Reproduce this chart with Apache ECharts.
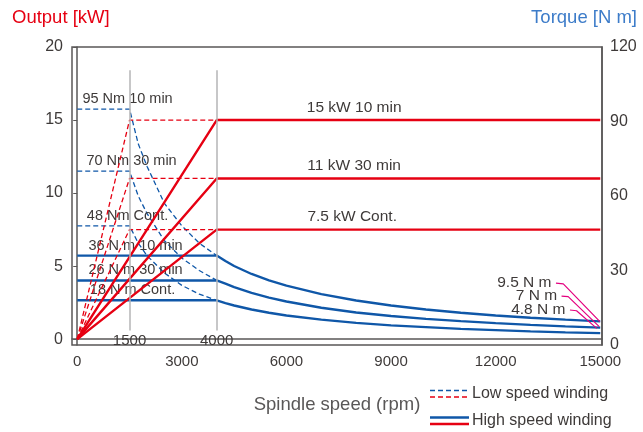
<!DOCTYPE html>
<html>
<head>
<meta charset="utf-8">
<script src="https://cdn.jsdelivr.net/npm/echarts@6/dist/echarts.min.js"></script>
<style>
html,body{margin:0;padding:0;background:#fff;}
#charts{width:643px;height:432px;}
</style>
</head>
<body>
<div id="charts"></div>
<script>
var speedTicks = [0, 3000, 6000, 9000, 12000, 15000];
var outputTicks = [0, 5, 10, 15, 20];
var torqueTicks = [0, 30, 60, 90, 120];
var baseSpeeds = [1500, 4000];

// low speed winding (dashed) - output kW / torque N m
var lowPower10 = [[0, 0], [1500, 15], [4000, 15]];
var lowPower30 = [[0, 0], [1500, 11], [4000, 11]];
var lowPowerCont = [[0, 0], [1500, 7.5], [4000, 7.5]];
var lowTorque10 = [[0, 95], [1500, 95], [1750, 81], [2000, 72], [2500, 57], [3000, 48], [3500, 41], [4000, 36]];
var lowTorque30 = [[0, 70], [1500, 70], [1750, 60], [2000, 53], [2500, 42], [3000, 35], [3500, 30], [4000, 26]];
var lowTorqueCont = [[0, 48], [1500, 48], [1750, 41], [2000, 36], [2500, 29], [3000, 24], [3500, 20.5], [4000, 18]];

// high speed winding (solid)
var highPower10 = [[0, 0], [4000, 15], [8000, 15], [15000, 15]];
var highPower30 = [[0, 0], [4000, 11], [8000, 11], [15000, 11]];
var highPowerCont = [[0, 0], [4000, 7.5], [8000, 7.5], [15000, 7.5]];
var highTorque10 = [[0, 36], [1500, 36], [4000, 36], [4250, 33.8], [4500, 31.8], [5000, 28.6], [5500, 26], [6000, 23.9], [7000, 20.5], [8000, 17.9], [9000, 15.9], [10000, 14.3], [11000, 13], [12000, 11.9], [13000, 11], [14000, 10.2], [15000, 9.5]];
var highTorque30 = [[0, 26], [1500, 26], [4000, 26], [4250, 24.7], [4500, 23.3], [5000, 21], [5500, 19.1], [6000, 17.5], [7000, 15], [8000, 13.1], [9000, 11.7], [10000, 10.5], [11000, 9.6], [12000, 8.8], [13000, 8.1], [14000, 7.5], [15000, 7]];
var highTorqueCont = [[0, 18], [1500, 18], [4000, 18], [4250, 16.9], [4500, 15.9], [5000, 14.3], [5500, 13], [6000, 11.9], [7000, 10.2], [8000, 8.9], [9000, 7.9], [10000, 7.2], [11000, 6.5], [12000, 6], [13000, 5.5], [14000, 5.1], [15000, 4.8]];

// leaders for the torque values at max speed
var leaderNames = ['9.5 N m', '7 N m', '4.8 N m'];
var leader95 = [[13730, 24.9], [13940, 24.6], [14990, 9.4]];
var leader7 = [[13890, 19.7], [14080, 19.5], [14970, 7.4]];
var leader48 = [[14130, 14.1], [14320, 13.8], [14900, 6.7]];

var RED = '#e60012', BLUE = '#0f57a8', TXT = '#3e3a39', AX = '#595757';
var FONT = '"Liberation Sans", Arial, sans-serif';

function icon(dash){
	var d = dash ? " stroke-dasharray='5,3'" : "";
	var w = dash ? 1.6 : 2.4;
	var svg = "<svg xmlns='http://www.w3.org/2000/svg' width='39' height='12'>" +
		"<line x1='0' y1='2.5' x2='39' y2='2.5' stroke='" + BLUE + "' stroke-width='" + w + "'" + d + "/>" +
		"<line x1='0' y1='9' x2='39' y2='9' stroke='" + RED + "' stroke-width='" + w + "'" + d + "/></svg>";
	return 'image://data:image/svg+xml;charset=utf-8,' + encodeURIComponent(svg);
}

//线条 + 标签
function mkLine(name, data, axis, color, dashed, txt, at, lbl){
	var d = data.map(function(p, i){
		if(txt && i == at){
			return {
				value: p,
				symbol: 'circle',
				symbolSize: 1,
				itemStyle: {color: 'rgba(0,0,0,0)'},
				label: Object.assign({show: true, formatter: txt, color: TXT, fontSize: 14.5, fontFamily: FONT}, lbl)
			};
		}
		return p;
	});
	return {
		name: name,
		type: 'line',
		yAxisIndex: axis,
		data: d,
		symbol: 'none',
		color: color,
		z: color == RED ? 4 : 3,
		lineStyle: {color: color, width: dashed ? 1.3 : 2.4, type: dashed ? [5, 3] : 'solid'},
		emphasis: {disabled: true}
	};
}

var LOW = 'Low speed winding', HIGH = 'High speed winding';
var series = [
	mkLine(LOW, lowTorque10, 1, BLUE, true, '95 Nm 10 min', 1, {position: 'top', distance: 2, offset: [-2, 0]}),
	mkLine(LOW, lowTorque30, 1, BLUE, true, '70 Nm 30 min', 1, {position: 'top', distance: 2, offset: [2, 0]}),
	mkLine(LOW, lowTorqueCont, 1, BLUE, true, '48 Nm Cont.', 1, {position: 'top', distance: 2, offset: [-2, 0]}),
	mkLine(LOW, lowPower10, 0, RED, true),
	mkLine(LOW, lowPower30, 0, RED, true),
	mkLine(LOW, lowPowerCont, 0, RED, true),
	mkLine(HIGH, highTorque10, 1, BLUE, false, '36 N m 10 min', 1, {position: 'top', distance: 2, offset: [6, 0]}),
	mkLine(HIGH, highTorque30, 1, BLUE, false, '26 N m 30 min', 1, {position: 'top', distance: 2, offset: [6, 0]}),
	mkLine(HIGH, highTorqueCont, 1, BLUE, false, '18 N m Cont.', 1, {position: 'top', distance: 2, offset: [3, 0]}),
	mkLine(HIGH, highPower10, 0, RED, false, '15 kW 10 min', 2, {position: 'top', distance: 4, fontSize: 15.5, offset: [-2, 0]}),
	mkLine(HIGH, highPower30, 0, RED, false, '11 kW 30 min', 2, {position: 'top', distance: 4, fontSize: 15.5, offset: [-2, 0]}),
	mkLine(HIGH, highPowerCont, 0, RED, false, '7.5 kW Cont.', 2, {position: 'top', distance: 4, fontSize: 15.5, offset: [-4, 0]})
];
[leader95, leader7, leader48].forEach(function(l, i){
	series.push({
		name: 'leader' + i,
		type: 'line',
		yAxisIndex: 1,
		symbol: 'none',
		z: 5,
		lineStyle: {color: '#e4007f', width: 1.2},
		emphasis: {disabled: true},
		data: l.map(function(p, j){
			if(j != 0) return p;
			return {
				value: p,
				symbol: 'circle',
				symbolSize: 1,
				itemStyle: {color: 'rgba(0,0,0,0)'},
				label: {show: true, position: 'left', distance: 4, formatter: leaderNames[i], color: TXT, fontSize: 15.5, fontFamily: FONT}
			};
		})
	});
});
//基准转速竖线
series.push({
	name: 'base',
	type: 'line',
	data: [],
	z: 1,
	markLine: {
		symbol: 'none',
		silent: true,
		lineStyle: {color: '#b5b5b6', width: 1.5, type: 'solid'},
		label: {position: 'start', distance: 3, formatter: '{b}', color: TXT, fontSize: 15, fontFamily: FONT},
		data: baseSpeeds.map(function(s){
			return [{coord: [s, 0.6], name: String(s)}, {coord: [s, 18.4]}];
		})
	}
});

var charts = echarts.init(document.getElementById('charts'));
var option = {
	animation: false,
	textStyle: {fontFamily: FONT},
	title: [{
		text: 'Output [kW]', left: 12, top: 8, padding: 0,
		textStyle: {color: RED, fontSize: 18.5, fontWeight: 'normal', fontFamily: FONT}
	},{
		text: 'Torque [N m]', right: 6, top: 8, padding: 0,
		textStyle: {color: '#3d7cc9', fontSize: 18.5, fontWeight: 'normal', fontFamily: FONT}
	}],
	legend: {
		data: [{name: LOW, icon: icon(true)}, {name: HIGH, icon: icon(false)}],
		orient: 'vertical',
		left: 430,
		top: 386,
		padding: 0,
		itemWidth: 39,
		itemHeight: 12,
		itemGap: 11,
		selectedMode: false,
		textStyle: {color: TXT, fontSize: 16, fontFamily: FONT, padding: [0, 0, 0, -2]}
	},
	grid: {
		left: 72, right: 41, top: 47, bottom: 87,
		show: true, borderColor: AX, borderWidth: 1.5
	},
	xAxis: {
		type: 'value',
		min: -150,
		max: 15050,
		name: 'Spindle speed (rpm)',
		nameLocation: 'middle',
		nameGap: 50,
		nameTextStyle: {color: AX, fontSize: 18.5, fontFamily: FONT},
		splitLine: {show: false},
		axisLine: {lineStyle: {color: AX, width: 1.5}},
		axisTick: {show: false},
		axisLabel: {customValues: speedTicks, color: TXT, fontSize: 15, margin: 9, formatter: function(v){ return String(v); }}
	},
	yAxis: [{
		type: 'value',
		min: -0.4,
		max: 20,
		splitLine: {show: false},
		axisLine: {show: true, lineStyle: {color: AX, width: 1.5}},
		axisTick: {show: true, customValues: outputTicks, length: 4, lineStyle: {color: AX}},
		axisLabel: {customValues: outputTicks, color: TXT, fontSize: 16, margin: 9}
	},{
		type: 'value',
		min: 0,
		max: 120,
		interval: 30,
		position: 'right',
		splitLine: {show: false},
		axisLine: {show: true, lineStyle: {color: AX, width: 1.5}},
		axisTick: {show: false},
		axisLabel: {color: TXT, fontSize: 16, margin: 8}
	}],
	series: series
};
charts.setOption(option);
</script>
</body>
</html>
